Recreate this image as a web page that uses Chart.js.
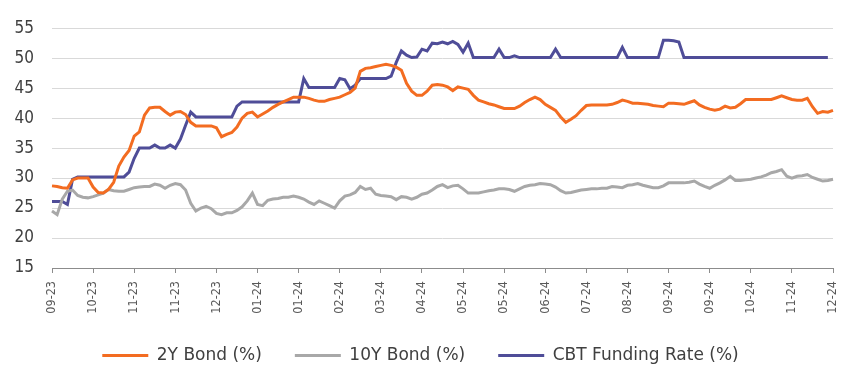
<!DOCTYPE html>
<html>
<head>
<meta charset="utf-8">
<script src="https://cdn.jsdelivr.net/npm/chart.js@4.4.0/dist/chart.umd.min.js"></script>
<style>
  html, body { margin: 0; padding: 0; background: #fff; }
</style>
</head>
<body>
<canvas id="rates" width="841" height="370"></canvas>
<script>
// axis labels, one every 8 observations
var tickLabels = ['09-23', '10-23', '11-23', '11-23', '12-23', '01-24', '01-24', '02-24', '03-24', '04-24',
    '05-24', '05-24', '06-24', '07-24', '08-24', '09-24', '09-24', '10-24', '11-24', '12-24'];
var perTick = 8;

var bond2y = [
    28.7, 28.6, 28.4, 28.3, 29.7, 30.0, 30.0, 30.0, 28.5, 27.6,
    27.5, 28.1, 29.3, 32.0, 33.5, 34.6, 37.0, 37.7, 40.5, 41.7,
    41.8, 41.8, 41.1, 40.5, 41.0, 41.1, 40.6, 39.3, 38.7, 38.7,
    38.7, 38.7, 38.4, 36.9, 37.3, 37.6, 38.5, 40.0, 40.8, 41.0,
    40.2, 40.7, 41.2, 41.8, 42.3, 42.7, 43.1, 43.5, 43.5, 43.5,
    43.3, 43.0, 42.8, 42.8, 43.1, 43.3, 43.5, 43.9, 44.3, 45.0,
    47.8, 48.3, 48.4, 48.6, 48.8, 49.0, 48.8, 48.5, 48.0, 45.8,
    44.5, 43.8, 43.8, 44.5, 45.5, 45.6, 45.5, 45.2, 44.6, 45.2,
    45.0, 44.8, 43.8, 43.0, 42.7, 42.4, 42.2, 41.9, 41.6, 41.6,
    41.6, 42.0, 42.6, 43.1, 43.5, 43.1, 42.3, 41.8, 41.3, 40.2,
    39.3, 39.8, 40.4, 41.3, 42.1, 42.2, 42.2, 42.2, 42.2, 42.3,
    42.6, 43.0, 42.8, 42.5, 42.5, 42.4, 42.3, 42.1, 42.0, 41.9,
    42.5, 42.5, 42.4, 42.3, 42.6, 42.9, 42.2, 41.8, 41.5, 41.3,
    41.5, 42.0, 41.7, 41.8, 42.4, 43.1, 43.1, 43.1, 43.1, 43.1,
    43.1, 43.4, 43.7, 43.4, 43.1, 43.0, 43.0, 43.3, 41.9, 40.8,
    41.1, 41.0, 41.3
];

var bond10y = [
    24.5, 23.9, 26.5, 27.8, 28.0, 27.1, 26.8, 26.7, 26.9, 27.2,
    27.5, 28.1, 27.9, 27.8, 27.8, 28.1, 28.4, 28.5, 28.6, 28.6,
    29.0, 28.8, 28.3, 28.8, 29.1, 28.9, 28.0, 25.8, 24.5, 25.0,
    25.3, 24.9, 24.1, 23.9, 24.2, 24.2, 24.6, 25.2, 26.2, 27.5,
    25.6, 25.4, 26.3, 26.5, 26.6, 26.8, 26.8, 27.0, 26.8, 26.5,
    26.0, 25.6, 26.2, 25.8, 25.4, 25.0, 26.2, 27.0, 27.2, 27.6,
    28.6, 28.1, 28.3, 27.3, 27.1, 27.0, 26.9, 26.4, 26.9, 26.8,
    26.5, 26.8, 27.3, 27.5, 28.0, 28.6, 28.9, 28.4, 28.7, 28.8,
    28.2, 27.5, 27.5, 27.5, 27.7, 27.9, 28.0, 28.2, 28.2, 28.1,
    27.8, 28.2, 28.6, 28.8, 28.9, 29.1, 29.0, 28.9, 28.5, 27.9,
    27.5, 27.6, 27.8, 28.0, 28.1, 28.2, 28.2, 28.3, 28.3, 28.6,
    28.5, 28.4, 28.8, 28.9, 29.1, 28.8, 28.6, 28.4, 28.4, 28.7,
    29.2, 29.2, 29.2, 29.2, 29.3, 29.5, 29.0, 28.6, 28.3, 28.8,
    29.2, 29.7, 30.3, 29.6, 29.6, 29.7, 29.8, 30.0, 30.2, 30.5,
    30.9, 31.1, 31.4, 30.3, 30.0, 30.3, 30.4, 30.6, 30.1, 29.8,
    29.5, 29.6, 29.8
];

var fundingRate = [
    26.1, 26.1, 26.1, 25.6, 29.8, 30.2, 30.2, 30.2, 30.2, 30.2,
    30.2, 30.2, 30.2, 30.2, 30.2, 31.0, 33.3, 35.0, 35.0, 35.0,
    35.5, 35.0, 35.0, 35.5, 35.0, 36.5, 38.8, 41.0, 40.2, 40.2,
    40.2, 40.2, 40.2, 40.2, 40.2, 40.2, 42.0, 42.7, 42.7, 42.7,
    42.7, 42.7, 42.7, 42.7, 42.7, 42.7, 42.7, 42.7, 42.7, 46.6,
    45.1, 45.1, 45.1, 45.1, 45.1, 45.1, 46.6, 46.4, 44.9, 45.5,
    46.6, 46.6, 46.6, 46.6, 46.6, 46.6, 47.0, 49.3, 51.2, 50.5,
    50.1, 50.2, 51.5, 51.2, 52.5, 52.4, 52.7, 52.4, 52.8, 52.3,
    51.0, 52.5, 50.1, 50.1, 50.1, 50.1, 50.1, 51.5, 50.1, 50.1,
    50.4, 50.1, 50.1, 50.1, 50.1, 50.1, 50.1, 50.1, 51.5, 50.1,
    50.1, 50.1, 50.1, 50.1, 50.1, 50.1, 50.1, 50.1, 50.1, 50.1,
    50.1, 51.8, 50.1, 50.1, 50.1, 50.1, 50.1, 50.1, 50.1, 53.0,
    53.0, 52.9, 52.7, 50.1, 50.1, 50.1, 50.1, 50.1, 50.1, 50.1,
    50.1, 50.1, 50.1, 50.1, 50.1, 50.1, 50.1, 50.1, 50.1, 50.1,
    50.1, 50.1, 50.1, 50.1, 50.1, 50.1, 50.1, 50.1, 50.1, 50.1,
    50.1, 50.1, null
];

// one category per observation, only every 8th gets a label
var labels = bond2y.map(function (v, i) {
    return i % perTick === 0 ? tickLabels[i / perTick] : '';
});

var tickFont = "'DejaVu Sans Condensed', 'DejaVu Sans', sans-serif";
var legendFont = "'DejaVu Sans', sans-serif";

function series(label, data, color) {
    return {
        label: label,
        data: data,
        borderColor: color,
        backgroundColor: color,
        borderWidth: 3,
        pointRadius: 0,
        tension: 0
    };
}

new Chart(document.getElementById('rates').getContext('2d'), {
    type: 'line',
    data: {
        labels: labels,
        datasets: [
            series('2Y Bond (%)', bond2y, '#f36c21'),
            series('10Y Bond (%)', bond10y, '#a8a8a8'),
            series('CBT Funding Rate (%)', fundingRate, '#4f4d98')
        ]
    },
    options: {
        responsive: false,
        animation: false,
        layout: { padding: { top: 16, right: 0, left: 0, bottom: -4 } },
        plugins: {
            tooltip: { enabled: false },
            legend: {
                position: 'bottom',
                labels: {
                    color: '#404040',
                    font: { family: legendFont, size: 17 },
                    usePointStyle: true,
                    pointStyle: 'line',
                    pointStyleWidth: 46,
                    padding: 33
                }
            }
        },
        scales: {
            x: {
                ticks: {
                    color: '#595959',
                    font: { family: tickFont, size: 12.5 },
                    autoSkip: false,
                    minRotation: 90,
                    maxRotation: 90,
                    padding: 8
                },
                afterBuildTicks: function (axis) {
                    axis.ticks = axis.ticks.filter(function (t) { return t.value % perTick === 0; });
                },
                afterFit: function (scale) {
                    scale.paddingLeft = 0;
                    scale.paddingRight = 8;
                    scale.height = 46;
                },
                grid: {
                    drawOnChartArea: false,
                    drawTicks: true,
                    tickLength: 5,
                    color: '#8c8c8c'
                },
                border: { color: '#8c8c8c', width: 1 }
            },
            y: {
                min: 15,
                max: 55,
                ticks: {
                    stepSize: 5,
                    color: '#404040',
                    font: { family: tickFont, size: 17 },
                    padding: 18
                },
                grid: { color: '#d9d9d9', drawTicks: false },
                border: { display: false },
                afterFit: function (scale) { scale.width = 52; }
            }
        }
    }
});
</script>
</body>
</html>
